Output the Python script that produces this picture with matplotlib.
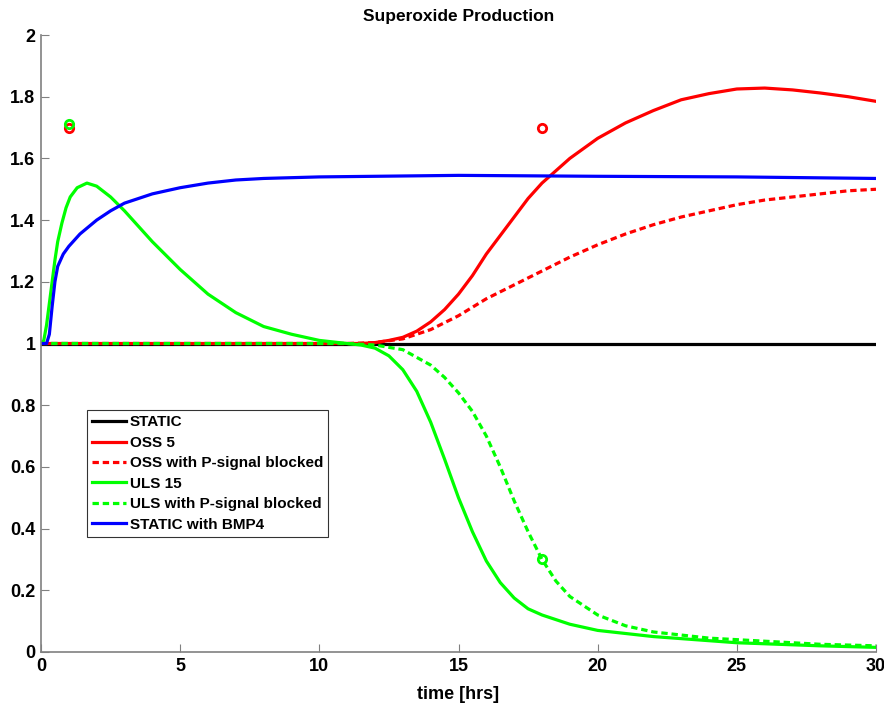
import matplotlib
matplotlib.use('Agg')
import matplotlib.pyplot as plt

# data
t_static = [0, 30]
y_static = [1.0, 1.0]

t_oss = [0, 11, 11.5, 12, 12.5, 13, 13.5, 14, 14.5, 15, 15.5, 16, 16.5, 17, 17.5, 18,
         19, 20, 21, 22, 23, 24, 25, 26, 27, 28, 29, 30]
y_oss = [1.0, 1.0, 1.0, 1.003, 1.01, 1.02, 1.04, 1.07, 1.11, 1.16, 1.22, 1.29, 1.35, 1.41, 1.47, 1.52,
         1.60, 1.665, 1.715, 1.755, 1.79, 1.81, 1.825, 1.828, 1.822, 1.812, 1.80, 1.785]

t_oss_blk = [0, 11, 12, 13, 14, 15, 16, 17, 18, 19, 20, 21, 22, 23, 24, 25, 26, 27, 28, 29, 30]
y_oss_blk = [1.0, 1.0, 1.003, 1.015, 1.045, 1.09, 1.145, 1.19, 1.235, 1.28, 1.32, 1.355, 1.385,
             1.41, 1.43, 1.45, 1.465, 1.475, 1.485, 1.495, 1.50]

t_uls = [0, 0.1, 0.2, 0.3, 0.4, 0.5, 0.6, 0.75, 0.9, 1.05, 1.3, 1.65, 2.0, 2.5, 3, 3.5, 4, 5, 6, 7, 8,
         9, 10, 11, 11.5, 12, 12.5, 13, 13.5, 14, 14.5, 15, 15.5, 16, 16.5, 17, 17.5, 18, 19, 20, 22,
         25, 28, 30]
y_uls = [1.0, 1.01, 1.06, 1.13, 1.2, 1.27, 1.33, 1.39, 1.44, 1.475, 1.505, 1.52, 1.51, 1.475, 1.43,
         1.38, 1.33, 1.24, 1.16, 1.10, 1.055, 1.03, 1.01, 1.0, 0.995, 0.985, 0.96, 0.915, 0.845, 0.745,
         0.625, 0.50, 0.39, 0.295, 0.225, 0.175, 0.14, 0.12, 0.09, 0.07, 0.05, 0.03, 0.02, 0.015]

t_uls_blk = [0, 11, 12, 13, 14, 14.5, 15, 15.5, 16, 16.5, 17, 17.5, 18, 18.5, 19, 20, 21, 22, 24, 26, 28, 30]
y_uls_blk = [1.0, 1.0, 0.995, 0.98, 0.93, 0.89, 0.84, 0.78, 0.70, 0.60, 0.49, 0.39, 0.30, 0.23, 0.18,
             0.12, 0.085, 0.065, 0.045, 0.035, 0.025, 0.02]

t_bmp = [0, 0.2, 0.3, 0.4, 0.5, 0.6, 0.8, 1.0, 1.4, 2, 2.5, 3, 4, 5, 6, 7, 8, 10, 15, 20, 25, 30]
y_bmp = [1.0, 1.0, 1.03, 1.12, 1.2, 1.25, 1.29, 1.315, 1.355, 1.40, 1.43, 1.455, 1.485, 1.505, 1.52,
         1.53, 1.535, 1.54, 1.545, 1.542, 1.54, 1.535]

# experimental points
pt_red_t = [1, 18]
pt_red_y = [1.70, 1.70]
pt_green_t = [1, 18]
pt_green_y = [1.71, 0.30]

labels = ['STATIC', 'OSS 5', 'OSS with P-signal blocked', 'ULS 15',
          'ULS with P-signal blocked', 'STATIC with BMP4']

RED = '#ff0000'
GREEN = '#00ff00'
BLUE = '#0000ff'

font = ['Liberation Sans', 'DejaVu Sans']

fig = plt.figure(figsize=(8.84, 7.12), dpi=100)
ax = fig.add_axes([41 / 884, 60 / 712, 835 / 884, 617 / 712])

lw = 2.3
ax.plot(t_static, y_static, color='black', lw=lw, label=labels[0])
ax.plot(t_oss, y_oss, color=RED, lw=lw, label=labels[1])
ax.plot(t_oss_blk, y_oss_blk, color=RED, lw=lw, ls=(0, (2, 1.2)), label=labels[2])
ax.plot(t_uls, y_uls, color=GREEN, lw=lw, label=labels[3])
ax.plot(t_uls_blk, y_uls_blk, color=GREEN, lw=lw, ls=(0, (2, 1.2)), label=labels[4])
ax.plot(t_bmp, y_bmp, color=BLUE, lw=lw, label=labels[5])

ax.plot(pt_red_t, pt_red_y, 'o', mfc='none', mec=RED, mew=2, ms=6)
ax.plot(pt_green_t, pt_green_y, 'o', mfc='none', mec=GREEN, mew=2, ms=6)

ax.set_xlim(0, 30)
ax.set_ylim(0, 2)
ax.set_xticks(range(0, 31, 5))
ax.set_yticks([i / 5 for i in range(11)])
ax.set_yticklabels(['0', '0.2', '0.4', '0.6', '0.8', '1', '1.2', '1.4', '1.6', '1.8', '2'])

for s in ['top', 'right']:
    ax.spines[s].set_visible(False)
for s in ['left', 'bottom']:
    ax.spines[s].set_color('#808080')
    ax.spines[s].set_linewidth(1.2)
ax.tick_params(direction='in', length=6, color='#808080', pad=4)
for lbl in ax.get_xticklabels() + ax.get_yticklabels():
    lbl.set_family(font)
    lbl.set_fontweight('bold')
    lbl.set_fontsize(13)

ax.set_title('Superoxide Production', family=font, fontweight='bold', fontsize=12.5, pad=10)
ax.set_xlabel('time [hrs]', family=font, fontweight='bold', fontsize=13, labelpad=8)

leg = ax.legend(loc='upper left', bbox_to_anchor=(0.055, 0.392), frameon=True, fancybox=False,
                edgecolor='black', handlelength=2.2, handletextpad=0.25, labelspacing=0.42,
                borderpad=0.35, borderaxespad=0,
                prop={'family': font, 'weight': 'bold', 'size': 11})
leg.get_frame().set_linewidth(0.8)

fig.savefig('out.png', dpi=100, facecolor='white')
